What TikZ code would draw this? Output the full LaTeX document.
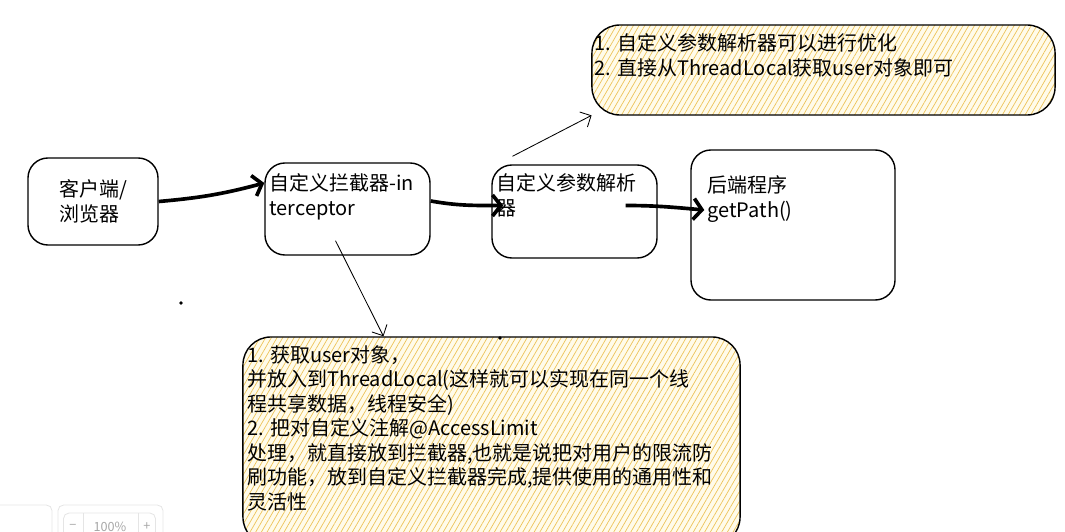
\documentclass[tikz,border=0pt]{standalone}
\usepackage{fontspec}
\setmainfont{Noto Sans CJK SC}
\usepackage{tikz}
\usetikzlibrary{arrows.meta,patterns.meta}
\definecolor{hatch}{HTML}{EDC35A}
\definecolor{notebg}{HTML}{FFFBEA}

\begin{document}
\begin{tikzpicture}[x=0.025cm, y=-0.025cm,
	box/.style={draw, line width=1pt, rounded corners=0.5cm, inner sep=0pt},
	note/.style={box, rounded corners=0.7cm, preaction={fill=notebg}, pattern={Lines[angle=60,distance=3.5pt,line width=0.5pt]}, pattern color=hatch},
	txt/.style={inner sep=0pt, anchor=north west, align=left, font=\fontsize{14.2}{17.7}\selectfont},
	flow/.style={line width=2.6pt, -{Straight Barb[length=6pt,width=15pt]}},
	link/.style={line width=0.6pt, -{Straight Barb[length=6pt,width=12pt]}},
	uibox/.style={draw=gray!20, line width=0.6pt, rounded corners=4pt, inner sep=0pt}]
	\useasboundingbox (0,0) rectangle (1065,532);

	% boxes
	\node[box, minimum width=3.25cm, minimum height=2.175cm, align=left, font=\fontsize{14.2}{17.7}\selectfont] (client) at (93,201.5) {客户端/\\浏览器};
	\node[box, minimum width=4.125cm, minimum height=2.3cm] (intc) at (347.5,209) {};
	\node[box, minimum width=4.125cm, minimum height=2.325cm] (param) at (574.5,211.5) {};
	\node[box, minimum width=5.1cm, minimum height=3.75cm] (backend) at (793,225) {};

	\node[txt] (intctext) at ([xshift=0.125cm,yshift=-0.275cm]intc.north west) {自定义拦截器-in\\terceptor};
	\node[txt] (paramtext) at ([xshift=0.125cm,yshift=-0.225cm]param.north west) {自定义参数解析\\器};
	\node[txt] (backendtext) at ([xshift=0.425cm,yshift=-0.65cm]backend.north west) {后端程序\\getPath()};

	% notes
	\node[note, minimum width=11.575cm, minimum height=2.25cm] (note1) at (823.5,70) {};
	\node[txt] (note1text) at ([xshift=0.075cm,yshift=-0.225cm]note1.north west) {1. 自定义参数解析器可以进行优化\\2. 直接从ThreadLocal获取user对象即可};

	\node[note, minimum width=12.425cm, minimum height=5.2cm] (note2) at (491.5,441) {};
	\node[txt, font=\fontsize{14.2}{17.4}\selectfont] (note2text) at ([xshift=0.125cm,yshift=-0.225cm]note2.north west) {1. 获取user对象，\\并放入到ThreadLocal(这样就可以实现在同一个线\\程共享数据，线程安全)\\2. 把对自定义注解@AccessLimit\\处理，就直接放到拦截器,也就是说把对用户的限流防\\刷功能，放到自定义拦截器完成,提供使用的通用性和\\灵活性};

	% connectors
	\draw[flow] (client.east) to[out=5, in=195] ([yshift=0.65cm]intc.west);
	\draw[flow] ([yshift=0.2cm]intc.east) to[out=-10, in=180] ([xshift=0.3cm,yshift=0.15cm]param.west);
	\draw[flow] ([xshift=-0.8cm,yshift=0.15cm]param.east) to[out=0, in=175] ([xshift=0.35cm,yshift=0.375cm]backend.west);
	\draw[link] ([xshift=-1.55cm,yshift=0.2cm]param.north) -- (note1.south west);
	\draw[link] ([xshift=-0.3cm,yshift=0.375cm]intc.south) -- ([xshift=-2.7cm]note2.north);

	% stray dots
	\fill (181,303) circle (1.3pt);
	\fill (500,338) circle (1.3pt);

	% zoom control
	\node[uibox, minimum width=1.55cm, minimum height=1cm] (panel) at (21,525) {};
	\node[uibox, minimum width=2.625cm, minimum height=1cm] (zoomctl) at (110.5,525) {};
	\node[uibox, minimum width=2.3cm, minimum height=0.6cm] (zoomrow) at (109.5,525) {};
	\node[text=gray!70, font=\fontsize{9}{10}\selectfont] (zminus) at (73,527) {−};
	\node[text=gray!70, font=\fontsize{9}{10}\selectfont] (zlevel) at (110,527) {100\%};
	\node[text=gray!70, font=\fontsize{9}{10}\selectfont] (zplus) at (147,527) {+};
	\draw[gray!20] (83,513) -- (83,532) (138,513) -- (138,532);
\end{tikzpicture}
\end{document}
